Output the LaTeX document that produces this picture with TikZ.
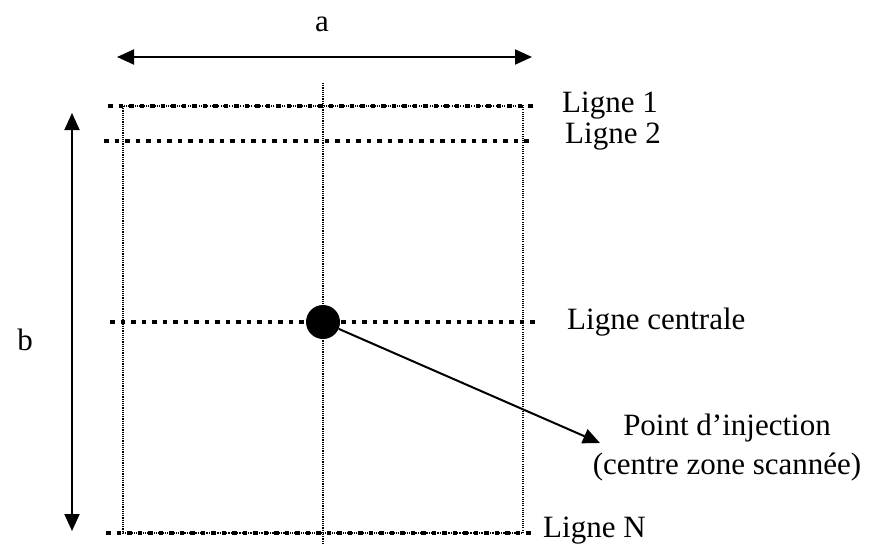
\documentclass[tikz,border=0pt]{standalone}
\usepackage{fontspec}
\setmainfont{Liberation Serif}
\usetikzlibrary{arrows.meta,positioning}

\begin{document}
\begin{tikzpicture}[x=1pt,y=-1pt,
  scanline/.style={line width=4.5pt,dash pattern=on 4.5pt off 6pt},
  gridline/.style={line width=1.1pt,dash pattern=on 1.1pt off 1.1pt},
  dimarrow/.style={line width=2pt,{Triangle[length=17pt,width=15pt]}-{Triangle[length=17pt,width=15pt]}},
  lbl/.style={font=\fontsize{31}{37}\selectfont,inner sep=0pt}]
\useasboundingbox (0,0) rectangle (872,544);
% zone scannee
\draw[gridline] (123,106) rectangle (523,533);
\draw[gridline] (323,83) -- (323,544);
% lignes de balayage
\coordinate (l1a) at (108,106); \coordinate (l1b) at (536,106);
\coordinate (l2a) at (104,141); \coordinate (l2b) at (533,141);
\coordinate (lca) at (110,322); \coordinate (lcb) at (537,322);
\coordinate (lna) at (106,533); \coordinate (lnb) at (534,533);
\draw[scanline] (l1a) -- (l1b);
\draw[scanline] (l2a) -- (l2b);
\draw[scanline] (lca) -- (lcb);
\draw[scanline] (lna) -- (lnb);
\node[lbl,anchor=base west] (lig1) at (562,112) {Ligne 1};
\node[lbl,anchor=base west] (lig2) at (565,143) {Ligne 2};
\node[lbl,anchor=base west] (ligc) at (567,329) {Ligne centrale};
\node[lbl,anchor=base west] (lign) at (543,537) {Ligne N};
% dimensions a et b
\coordinate (aw) at (117,57); \coordinate (ae) at (532,57);
\draw[dimarrow] (aw) -- (ae);
\node[lbl] (la) at (322,24) {a};
\coordinate (bn) at (72,113); \coordinate (bs) at (72,531);
\draw[dimarrow] (bn) -- (bs);
\node[lbl] (lb) at (25,340) {b};
% point d'injection
\node[circle,fill=black,minimum size=34pt,inner sep=0pt] (inj) at (323,322) {};
\coordinate (tip) at (600,443);
\draw[line width=2pt,-{Triangle[length=17pt,width=15pt]}] (inj) -- (tip);
\node[lbl,anchor=base] (pinj) at (727,435) {Point d’injection};
\node[lbl,anchor=base] (cent) at (727,474) {(centre zone scannée)};
\end{tikzpicture}
\end{document}
